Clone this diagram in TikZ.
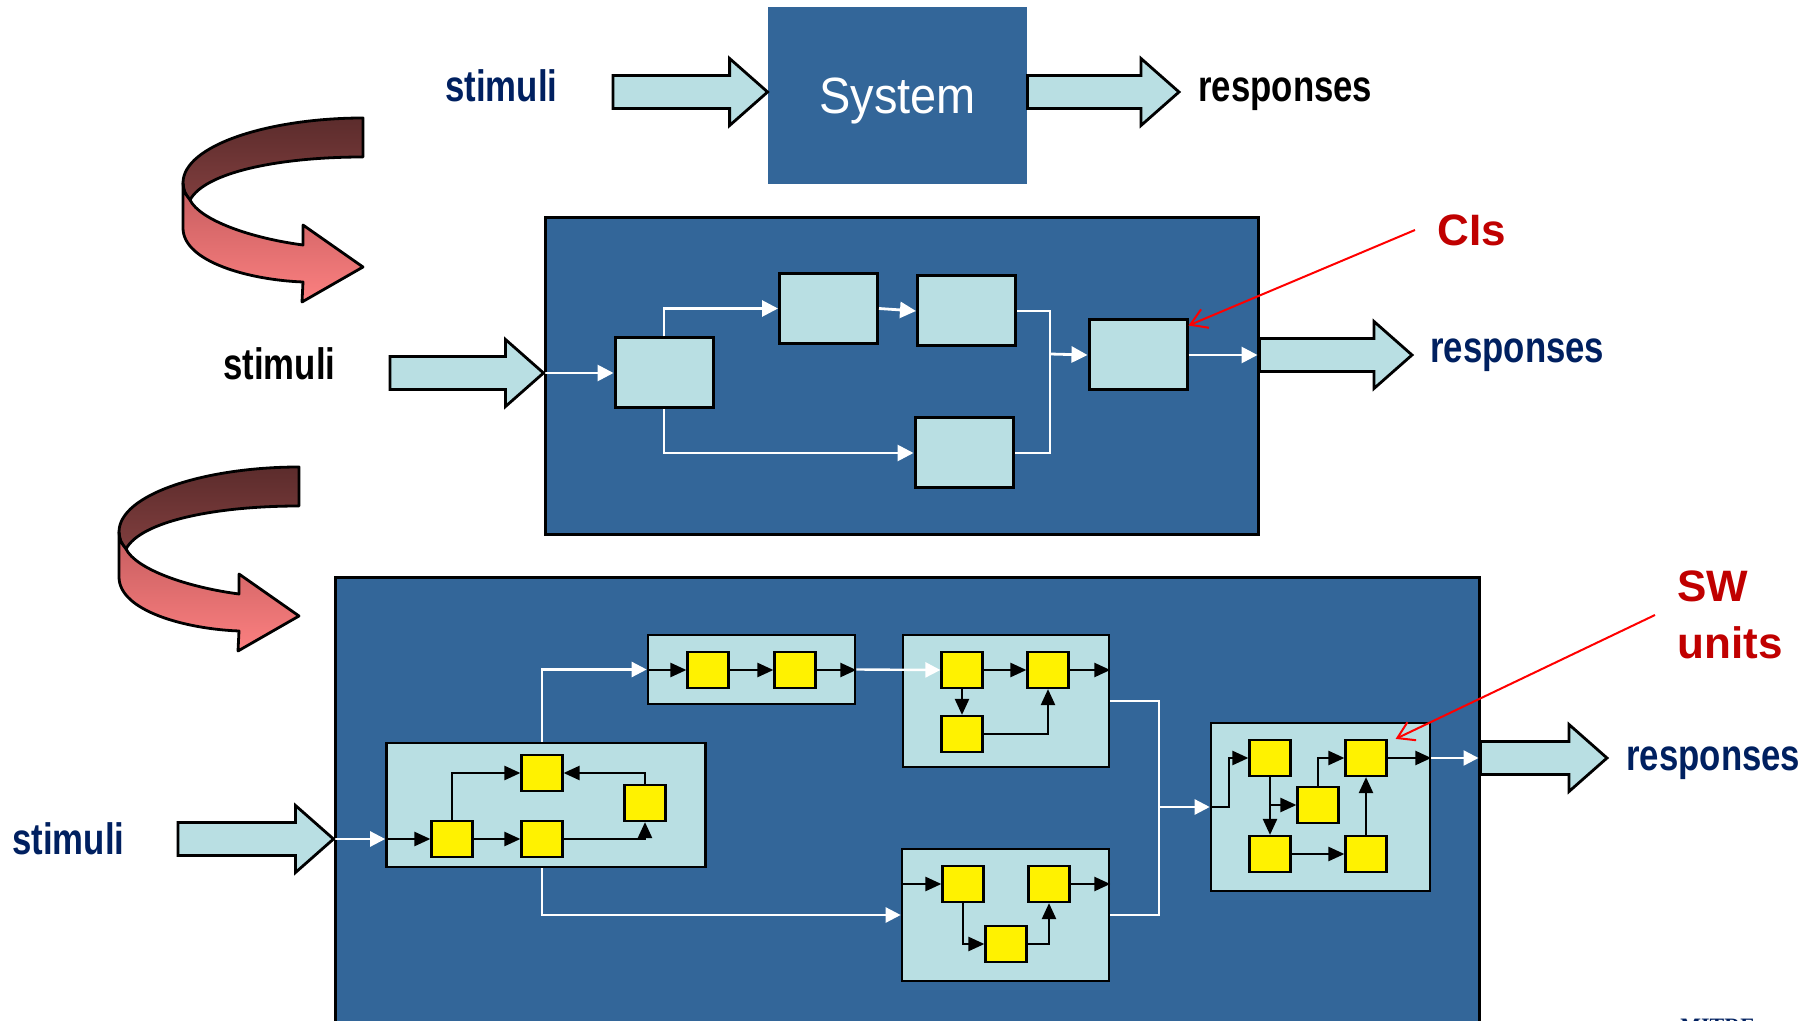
\documentclass[tikz,border=0pt]{standalone}
\usepackage{graphicx}
\usepackage{fontspec}
\setmainfont{Liberation Sans}
\newfontfamily\logofont{Liberation Serif}
\usetikzlibrary{arrows.meta,calc}

\definecolor{sysblue}{RGB}{51,102,153}
\definecolor{cipale}{RGB}{185,223,227}
\definecolor{navytxt}{RGB}{0,32,96}
\definecolor{cired}{RGB}{192,0,0}
\definecolor{turnA}{RGB}{92,44,44}
\definecolor{turnB}{RGB}{128,62,62}
\definecolor{turnC}{RGB}{196,92,94}
\definecolor{turnD}{RGB}{252,128,128}

% condensed label text
\newcommand\narrow[1]{\scalebox{0.79}[1]{#1}}

% fat arrow from the x of #1 to the tip #2
\newcommand\fatarrow[2]{%
  \filldraw[fatline] let \p1=#1, \p2=#2 in
    (\x1,{\y2+8.25pt}) -- ({\x2-19pt},{\y2+8.25pt}) -- ({\x2-19pt},{\y2+16.75pt})
    -- (\x2,\y2) -- ({\x2-19pt},{\y2-16.75pt}) -- ({\x2-19pt},{\y2-8.25pt})
    -- (\x1,{\y2-8.25pt}) -- cycle;}

% the twisted turn arrow, back part and front part
\def\backband{(363,118) .. controls (270,118) and (183,145) .. (183,183)
  .. controls (184,192) .. (190,200) .. controls (205,172) and (280,157) .. (363,157) -- cycle}
\def\frontband{(183,183) -- (183,228) .. controls (183,262) and (250,280) .. (303,282)
  -- (302,302) -- (363,267) -- (303,225) -- (303,245)
  .. controls (250,238) and (200,220) .. (190,200) .. controls (184,192) .. (183,183) -- cycle}

\begin{document}
\begin{tikzpicture}[x=0.5pt,y=-0.5pt,
  container/.style={draw=black,fill=sysblue,line width=1.5pt,inner sep=0pt},
  ci/.style={draw=black,fill=cipale,line width=1.5pt,minimum width=49pt,minimum height=35pt,inner sep=0pt},
  grp/.style={draw=black,fill=cipale,line width=1.3pt,inner sep=0pt},
  unit/.style={draw=black,fill=yellow,line width=1.1pt,minimum width=20.5pt,minimum height=18pt,inner sep=0pt},
  flowline/.style={draw=white,line width=1.4pt},
  flow/.style={flowline,-{Triangle[length=8pt,width=8pt]}},
  thinline/.style={draw=white,line width=1.2pt},
  thinflow/.style={thinline,-{Triangle[length=7.5pt,width=7.5pt]}},
  link/.style={draw=black,line width=1.2pt,-{Triangle[length=8pt,width=7pt]}},
  fatline/.style={draw=black,fill=cipale,line width=1.4pt,line join=miter},
  pointer/.style={draw=red,line width=1pt,-{Straight Barb[length=8pt,width=10pt]}},
  lbl/.style={font=\fontsize{22}{26}\selectfont\bfseries,inner sep=4pt},
  redlbl/.style={font=\fontsize{22}{28.5}\selectfont\bfseries,text=cired,inner sep=4pt,align=left},
  turnback/.style={draw=black,line width=1.4pt,line join=round,top color=turnA,bottom color=turnB},
  turnfront/.style={draw=black,line width=1.4pt,line join=round,top color=turnC,bottom color=turnD}]
\path[use as bounding box,clip] (0,0) rectangle (1816,1021);

% turn arrows
\foreach \dx/\dy in {0/0,-64/349}{
  \begin{scope}[shift={(\dx,\dy)}]
    \shadedraw[turnback] \backband;
    \shadedraw[turnfront] \frontband;
  \end{scope}
}

% black box level
\node[fill=sysblue,minimum width=129.5pt,minimum height=88.5pt,text=white,text depth=0pt,
  font=\fontsize{25.5}{30}\selectfont] (sys) at (897.5,95.5) {\scalebox{0.92}[1]{System}};
\coordinate (in0) at (613,92);
\coordinate (out0) at (1179,92);
\fatarrow{(in0)}{(sys.west |- in0)}
\fatarrow{(sys.east |- in0)}{(out0)}
\node[lbl,text=navytxt,anchor=base west] (stim0) at (437,102) {\narrow{stimuli}};
\node[lbl,anchor=base west] (resp0) at (1190,102) {\narrow{responses}};

% CI level
\node[container,minimum width=356.5pt,minimum height=158.5pt] (mid) at (901.5,376.5) {};
\node[ci] (A) at (664,373) {};
\node[ci] (B) at (828.5,308.5) {};
\node[ci] (C) at (966.5,311) {};
\node[ci] (D) at (964,453) {};
\node[ci] (E) at (1138,355) {};
\coordinate (jA) at (1050,354);
\draw[flow] (mid.west |- A) -- (A.west);
\draw[flow] (A.north) |- (B.west);
\draw[flow] (B.east) -- (C.west);
\draw[flow] (A.south) |- (D.west);
\draw[flowline] (C.east) -- (C.east -| jA) -- (D.east -| jA) -- (D.east);
\draw[flow] (jA) -- (E.west);
\draw[flow] (E.east) -- ([xshift=-1pt]mid.east |- E);
\coordinate (in1) at (390,0);
\coordinate (out1) at (1412,0);
\fatarrow{(in1)}{(mid.west |- A)}
\fatarrow{(mid.east |- E)}{(out1 |- E)}
\node[lbl,anchor=base west] (stim1) at (215,380) {\narrow{stimuli}};
\node[lbl,text=navytxt,anchor=base west] (resp1) at (1422,363) {\narrow{responses}};
\node[redlbl,anchor=west] (cis) at (1429,230) {CIs};
\draw[pointer] ([xshift=-7pt]cis.west) -- ([yshift=-3.5pt]E.north east);

% SW unit level
\node[container,minimum width=572pt,minimum height=236pt] (big) at (907,814) {};
\node[grp,minimum width=159.5pt,minimum height=62pt] (P1) at (546,805) {};
\node[grp,minimum width=103.5pt,minimum height=34.5pt] (P2) at (751.5,669.5) {};
\node[grp,minimum width=103pt,minimum height=66pt] (P3) at (1006,701) {};
\node[grp,minimum width=103.5pt,minimum height=66pt] (P4) at (1005.5,915) {};
\node[grp,minimum width=109.5pt,minimum height=84pt] (P5) at (1320.5,807) {};

\node[unit] (u11) at (452,839) {};
\node[unit] (u12) at (542,839) {};
\node[unit] (u13) at (542,773) {};
\node[unit] (u14) at (645,803) {};
\node[unit] (u21) at (708,670) {};
\node[unit] (u22) at (795,670) {};
\node[unit] (u31) at (962,670) {};
\node[unit] (u32) at (1048,670) {};
\node[unit] (u33) at (962,734) {};
\node[unit] (u41) at (963,884) {};
\node[unit] (u42) at (1049,884) {};
\node[unit] (u43) at (1006,944) {};
\node[unit] (u51) at (1270,758) {};
\node[unit] (u52) at (1366,758) {};
\node[unit] (u53) at (1318,805) {};
\node[unit] (u54) at (1270,854) {};
\node[unit] (u55) at (1366,854) {};

% flows between the groups
\coordinate (jB) at (1159,807);
\draw[thinflow] (big.west |- u11) -- (P1.west |- u11);
\draw[thinflow] (u13 |- P1.north) |- (P2.west);
\draw[thinflow] (u13 |- P1.south) |- (P4.west);
\draw[thinflow] (P2.east) -- (u31.west);
\draw[thinline] (P3.east) -- (P3.east -| jB) -- (P4.east -| jB) -- (P4.east);
\draw[thinflow] (jB) -- (P5.west);
\draw[thinflow] (P5.east |- u52) -- ([xshift=-1pt]big.east |- u52);

% links inside the groups
\draw[link] (P1.west |- u11) -- (u11.west);
\draw[link] (u11) -- (u12);
\draw[link] (u11.north) |- (u13.west);
\draw[link] (u14.north) |- (u13.east);
\draw[link] (u12.east) -| (u14.south);
\draw[link] (P2.west |- u21) -- (u21.west);
\draw[link] (u21) -- (u22);
\draw[link] (u22) -- (P2.east |- u22);
\draw[link] (u31) -- (u32);
\draw[link] (u32) -- (P3.east |- u32);
\draw[link] (u31) -- (u33);
\draw[link] (u33.east) -| (u32.south);
\draw[link] (P4.west |- u41) -- (u41.west);
\draw[link] (u41.south) |- (u43.west);
\draw[link] (u43.east) -| (u42.south);
\draw[link] (u42) -- (P4.east |- u42);
\draw[link] (P5.west) -- ++(19,0) |- (u51.west);
\draw[link] (u51) -- (u54);
\draw[link] (u51.south |- u53) -- (u53.west);
\draw[link] (u53.north) |- (u52.west);
\draw[link] (u54) -- (u55);
\draw[link] (u55) -- (u52);
\draw[link] (u52) -- (P5.east |- u52);

\coordinate (in2) at (178,0);
\coordinate (out2) at (1607,0);
\fatarrow{(in2)}{(big.west |- u11)}
\fatarrow{(big.east |- u52)}{(out2 |- u52)}
\node[lbl,text=navytxt,anchor=base west] (stim2) at (4,854) {\narrow{stimuli}};
\node[lbl,text=navytxt,anchor=base west] (resp2) at (1618,770) {\narrow{responses}};
\node[redlbl,anchor=west] (swu) at (1669,615) {SW\\units};
\draw[pointer] ([xshift=-7pt]swu.west) -- ([xshift=4pt]u52.north east);

\node[anchor=base west,inner sep=0pt,text=navytxt,font=\logofont\bfseries\fontsize{11}{13}\selectfont]
  (logo) at (1680,1033) {MITRE};
\end{tikzpicture}
\end{document}
